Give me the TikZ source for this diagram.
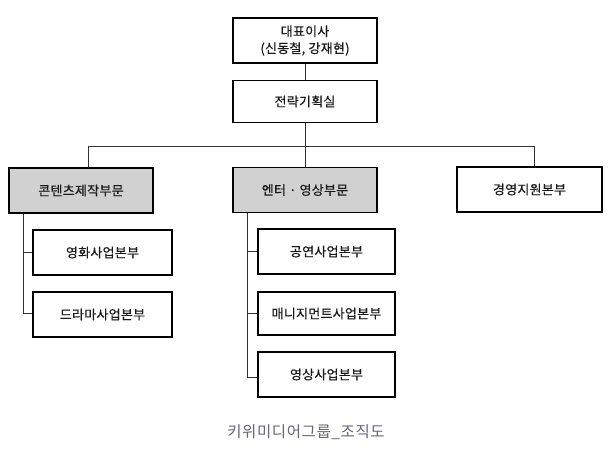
\documentclass[tikz,border=0pt]{standalone}
\usepackage{fontspec}
\newfontfamily\kr[LetterSpace=2,FakeBold=0.5]{Noto Sans CJK KR}
\newfontfamily\krcap[LetterSpace=4]{Noto Sans CJK KR}
\begin{document}
\begin{tikzpicture}[x=1pt,y=-1pt,
  box/.style={draw=black,line width=1.8pt,fill=white,inner sep=0pt,font=\kr\fontsize{13}{17}\selectfont,text=black!90},
  gbox/.style={box,fill=black!18},
  conn/.style={draw=black!80,line width=0.8pt}]
\useasboundingbox (0,0) rectangle (612,448);
\fill[white] (0,0) rectangle (612,448);
% top level
\node[box,minimum width=144pt,minimum height=45pt,align=center] (ceo) at (305,40.5) {대표이사\\(신동철, 강재현)};
\node[box,minimum width=144pt,minimum height=42pt] (plan) at (305,101.5) {전략기획실};
% divisions
\node[gbox,minimum width=144pt,minimum height=45pt] (cont) at (81,190.5) {콘텐츠제작부문};
\node[gbox,minimum width=144pt,minimum height=45pt] (ent) at (305,190) {엔터 · 영상부문};
\node[box,minimum width=145pt,minimum height=45pt] (mgmt) at (529.5,189.5) {경영지원본부};
% sub units
\node[box,minimum width=139pt,minimum height=45pt] (film) at (102.5,252.5) {영화사업본부};
\node[box,minimum width=139pt,minimum height=45pt] (drama) at (102.5,314.5) {드라마사업본부};
\node[box,minimum width=137pt,minimum height=45pt] (show) at (326.5,251.5) {공연사업본부};
\node[box,minimum width=137pt,minimum height=43pt] (manage) at (326.5,313.5) {매니지먼트사업본부};
\node[box,minimum width=137pt,minimum height=45pt] (video) at (326.5,374.5) {영상사업본부};
% connectors
\coordinate (bus) at (305,146);
\draw[conn] (ceo) -- (plan);
\draw[conn] (plan) -- (bus);
\draw[conn] (cont.north -| 88,0) -- (88,146) -- (534,146) -- (mgmt.north -| 534,0);
\draw[conn] (bus) -- (ent);
\draw[conn] (cont.south -| 23,0) -- (23,313) -- (drama.west |- 0,313);
\draw[conn] (23,252.5) -- (film.west |- 0,252.5);
\draw[conn] (ent.south -| 247,0) -- (247,377) -- (video.west |- 0,377);
\draw[conn] (247,251.5) -- (show.west |- 0,251.5);
\draw[conn] (247,313.5) -- (manage.west |- 0,313.5);
% caption
\node[font=\krcap\fontsize{15.5}{18}\selectfont,text=black!55!blue!20!gray] (cap) at (306,432) {키위미디어그룹\_조직도};
\end{tikzpicture}
\end{document}
